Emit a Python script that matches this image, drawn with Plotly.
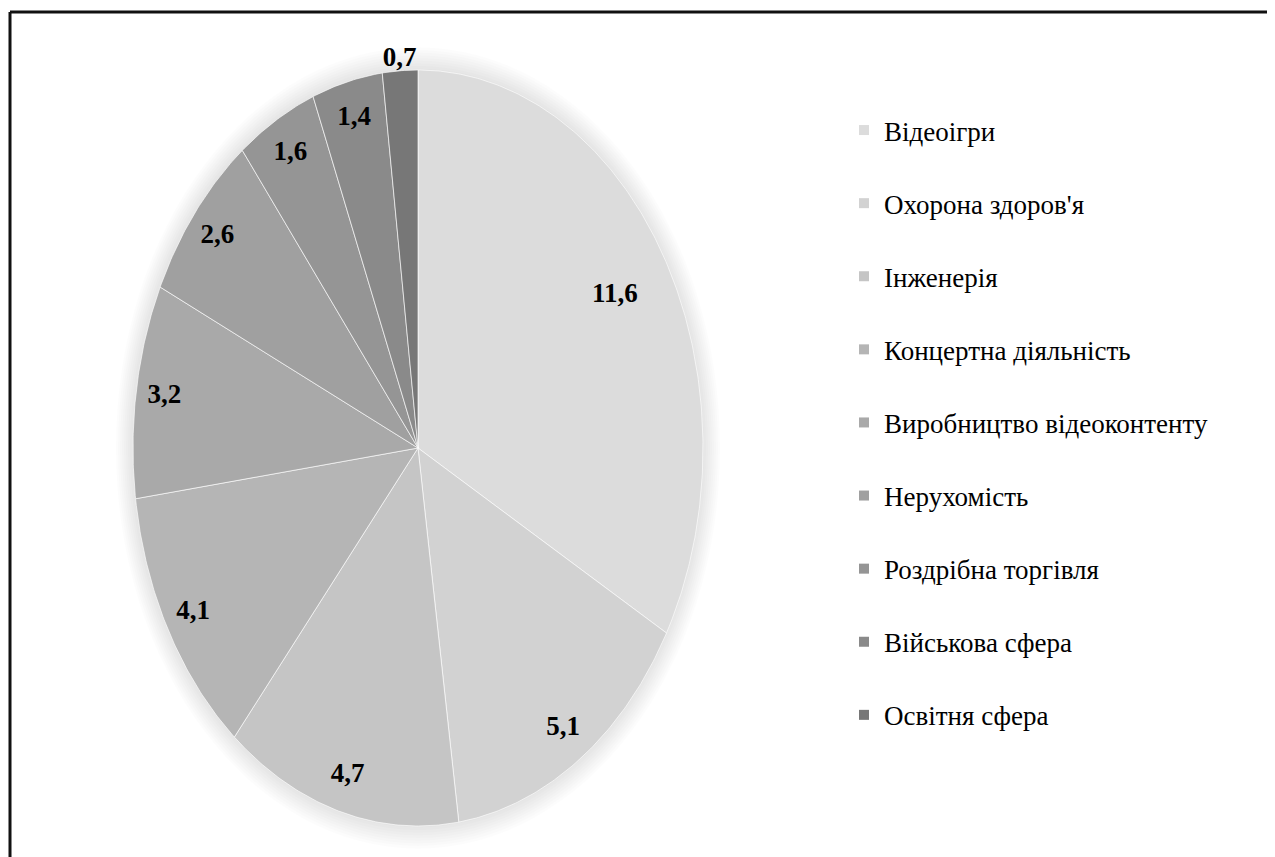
import numpy as np
import plotly.graph_objects as go

categories = ["Відеоігри", "Охорона здоров'я", "Інженерія", "Концертна діяльність",
              "Виробництво відеоконтенту", "Нерухомість", "Роздрібна торгівля",
              "Військова сфера", "Освітня сфера"]
values = [11.6, 5.1, 4.7, 4.1, 3.2, 2.6, 1.6, 1.4, 0.7]
colors = ["#dcdcdc", "#d2d2d2", "#c5c5c5", "#b5b5b5", "#a9a9a9",
          "#a0a0a0", "#959595", "#8a8a8a", "#777777"]

OFF = 8                      # default page body margin of the written html
W, H = 1275 - OFF, 857 - OFF
CX, CY, RX, RY = 418 - OFF, 448 - OFF, 285, 378   # ellipse centre / radii (px)
SERIF = "Liberation Serif, Times New Roman, Tinos, DejaVu Serif, serif"

vals = np.array(values, dtype=float)
total = vals.sum()
ends = np.cumsum(vals) / total * 2 * np.pi
starts = np.concatenate([[0.0], ends[:-1]])

fig = go.Figure()

for i, cat in enumerate(categories):
    n = max(3, int(np.degrees(ends[i] - starts[i])) * 2)
    th = np.linspace(starts[i], ends[i], n)
    xs = np.concatenate([[0], np.sin(th), [0]])
    ys = np.concatenate([[0], np.cos(th), [0]])
    fig.add_trace(go.Scatter(
        x=xs, y=ys, mode="lines", fill="toself", fillcolor=colors[i],
        line=dict(color="rgba(255,255,255,0.8)", width=0.8),
        hoverinfo="text", text=f"{cat}: {values[i]}".replace(".", ","),
        showlegend=False, legendgroup=cat))

# data labels
mids = (starts + ends) / 2
share = vals / total
lab_r = np.where(vals < 1, 1.03, np.where(share > 0.25, 0.8, 0.9))
fig.add_trace(go.Scatter(
    x=lab_r * np.sin(mids), y=lab_r * np.cos(mids), mode="text",
    text=[f"{v:.1f}".replace(".", ",") for v in values],
    textfont=dict(family=SERIF, size=27, color="#000000"),
    texttemplate="<b>%{text}</b>",
    hoverinfo="skip", showlegend=False))

# legend entries
for i, cat in enumerate(categories):
    fig.add_trace(go.Scatter(
        x=[None], y=[None], mode="markers", name=cat, legendgroup=cat,
        marker=dict(symbol="square", size=10, color=colors[i])))

# soft halo around the pie
halo = [dict(type="circle", xref="x", yref="y", x0=-s, x1=s, y0=-s, y1=s,
             fillcolor="rgba(0,0,0,0.012)", line=dict(width=0), layer="below")
        for s in np.linspace(1.004, 1.06, 9)]

fig.update_layout(
    width=W, height=H,
    margin=dict(l=0, r=0, t=0, b=0),
    paper_bgcolor="white", plot_bgcolor="white",
    xaxis=dict(range=[-CX / RX, (W - CX) / RX], visible=False, fixedrange=True),
    yaxis=dict(range=[-(H - CY) / RY, CY / RY], visible=False, fixedrange=True),
    legend=dict(x=(844 - OFF) / W, y=1 - (106 - OFF) / H, xanchor="left", yanchor="top",
                font=dict(family=SERIF, size=27, color="#000000"),
                tracegroupgap=35, traceorder="grouped",
                bgcolor="rgba(0,0,0,0)"),
    shapes=halo + [
        dict(type="line", xref="paper", yref="paper", x0=(10 - OFF) / W, x1=1,
             y0=1 - (12 - OFF) / H, y1=1 - (12 - OFF) / H,
             line=dict(color="#111111", width=3)),
        dict(type="line", xref="paper", yref="paper", x0=(10 - OFF) / W, x1=(10 - OFF) / W,
             y0=0, y1=1 - (12 - OFF) / H, line=dict(color="#111111", width=3)),
    ],
)

fig.write_html("out.html")
